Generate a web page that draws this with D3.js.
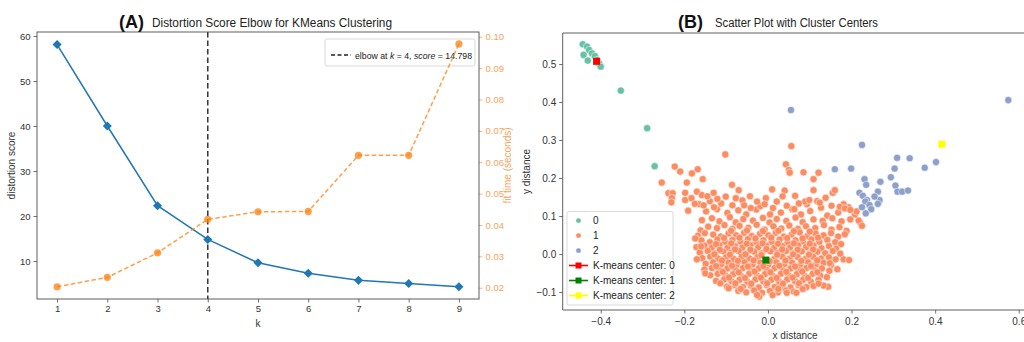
<!DOCTYPE html>
<html><head><meta charset="utf-8">
<script src="https://cdn.jsdelivr.net/npm/d3@7"></script>
<style>body{margin:0;background:#fff}svg{display:block}text{font-family:"Liberation Sans",Arial,sans-serif}</style>
</head><body><svg id="c" width="1024" height="342"></svg>
<script>
// ---------- Panel A data ----------
const kValues=[1,2,3,4,5,6,7,8,9];
const distortion=[58.1,40.0,22.3,14.798,9.6,7.3,5.7,5.0,4.3];
const fitTime=[0.0203,0.0233,0.0311,0.0418,0.0442,0.0443,0.0622,0.0622,0.0977];
const elbowK=4, elbowScore=14.798;
const leftTicks=[10,20,30,40,50,60];
const rightTicks=[0.02,0.03,0.04,0.05,0.06,0.07,0.08,0.09,0.10];
// ---------- Panel B data ----------
const xTicksB=[-0.4,-0.2,0.0,0.2,0.4,0.6];
const yTicksB=[-0.1,0.0,0.1,0.2,0.3,0.4,0.5];
const clusterLabels=["0","1","2"];
const clusterColors=["#66c2a5","#fc8d62","#8da0cb"];
const cluster0=[[-0.443,0.552],[-0.433,0.546],[-0.428,0.537],[-0.421,0.528],[-0.441,0.524],[-0.431,0.509],[-0.404,0.502],[-0.400,0.493],[-0.414,0.521],[-0.409,0.511],[-0.352,0.430],[-0.289,0.331],[-0.271,0.231]];
const cluster2=[[0.225,0.287],[0.160,0.223],[0.199,0.225],[0.231,0.197],[0.235,0.182],[0.269,0.190],[0.219,0.161],[0.227,0.153],[0.237,0.142],[0.233,0.138],[0.243,0.129],[0.247,0.118],[0.234,0.107],[0.225,0.123],[0.263,0.164],[0.267,0.142],[0.263,0.132],[0.294,0.202],[0.303,0.225],[0.309,0.253],[0.305,0.180],[0.310,0.164],[0.321,0.164],[0.335,0.167],[0.339,0.252],[0.375,0.227],[0.402,0.242],[0.255,0.151],[0.575,0.405],[0.055,0.379]];
const cluster1Outer=[[-0.102,0.262],[0.056,0.284],[-0.223,0.230],[-0.210,0.217],[-0.254,0.188],[-0.168,0.223],[-0.182,0.212],[-0.156,0.197],[-0.194,0.188],[-0.238,0.160],[-0.228,0.160],[-0.230,0.147],[-0.231,0.136],[-0.198,0.161],[-0.198,0.142],[-0.191,0.114],[-0.170,0.164],[-0.158,0.155],[-0.130,0.161],[-0.086,0.182],[-0.070,0.168],[-0.077,0.147],[-0.183,0.147],[-0.175,0.132],[0.010,0.170],[0.040,0.167],[0.043,0.236],[0.050,0.221],[0.052,0.214],[0.085,0.215],[0.121,0.214],[0.109,0.197],[0.109,0.168],[0.065,0.153],[0.155,0.161],[0.160,0.168],[0.124,0.135],[0.089,0.138],[0.099,0.142],[0.021,0.138],[0.172,0.124],[0.184,0.120],[0.197,0.116],[0.217,0.088],[0.225,0.074],[-0.145,0.152],[-0.121,0.145],[-0.101,0.151],[-0.061,0.141],[-0.043,0.152],[-0.026,0.138],[-0.005,0.147],[0.035,0.152],[0.074,0.133],[0.138,0.148],[-0.154,0.128],[-0.057,0.128],[-0.008,0.131],[0.045,0.127],[0.063,0.118],[-0.129,0.123],
[0.181,-0.014],[0.194,-0.016],[0.144,-0.086],[0.133,-0.083],[0.121,-0.078],[0.045,-0.102],[0.068,-0.102],[-0.026,-0.108],[-0.094,-0.090],[-0.114,-0.077],[-0.150,-0.051],[-0.170,-0.014],[-0.174,0.041],[-0.160,0.020],[0.173,0.001],[0.166,-0.040],[0.148,-0.024]];
const cluster1Core=[[-0.148,0.112],[-0.122,0.118],[-0.097,0.108],[-0.071,0.115],[-0.052,0.104],[-0.028,0.117],[0.012,0.121],[0.031,0.109],[0.058,0.118],[0.079,0.104],[0.101,0.113],[0.127,0.122],[0.142,0.101],[0.168,0.109],[0.193,0.123],[0.208,0.104],[-0.165,0.131],[-0.139,0.139],[-0.085,0.128],[-0.112,0.133],[-0.018,0.126],[0.005,0.104],[0.093,0.131],[0.118,0.139],[0.152,0.127],[0.181,0.131],[0.212,0.112],[-0.041,0.121],
[-0.158,0.089],[-0.134,0.094],[-0.116,0.086],[-0.091,0.097],[-0.077,0.083],[-0.059,0.092],[-0.036,0.088],[-0.012,0.095],[0.004,0.083],[0.021,0.092],[0.044,0.087],[0.066,0.096],[0.083,0.084],[0.109,0.091],[0.131,0.087],[0.154,0.094],[0.176,0.086],[0.197,0.091],[0.221,0.082],
[-0.143,0.072],[-0.122,0.068],[-0.104,0.076],[-0.085,0.066],[-0.068,0.074],[-0.047,0.069],[-0.027,0.077],[-0.008,0.064],[0.013,0.073],[0.032,0.067],[0.051,0.075],[0.072,0.066],[0.091,0.073],[0.113,0.068],[0.134,0.076],[0.152,0.064],[0.171,0.071],[0.188,0.061],[-0.161,0.062],
[-0.168,0.048],[-0.151,0.055],[-0.131,0.051],[-0.113,0.046],[-0.094,0.054],[-0.076,0.049],[-0.057,0.056],[-0.039,0.047],[-0.019,0.053],[0.001,0.049],[0.019,0.056],[0.038,0.046],[0.057,0.052],[0.076,0.057],[0.094,0.047],[0.114,0.054],[0.133,0.049],[0.151,0.055],[0.168,0.046],[0.184,0.052],
[-0.159,0.036],[-0.139,0.031],[-0.121,0.038],[-0.103,0.032],[-0.085,0.037],[-0.066,0.033],[-0.048,0.039],[-0.029,0.031],[-0.011,0.036],[0.009,0.032],[0.028,0.038],[0.047,0.031],[0.066,0.036],[0.084,0.033],[0.104,0.038],[0.123,0.032],[0.142,0.037],[0.161,0.031],[0.175,0.026],
[-0.171,0.018],[-0.152,0.022],[-0.134,0.017],[-0.116,0.023],[-0.097,0.016],[-0.079,0.021],[-0.061,0.017],[-0.042,0.023],[-0.023,0.018],[-0.004,0.022],[0.015,0.016],[0.034,0.021],[0.053,0.017],[0.072,0.023],[0.091,0.018],[0.109,0.022],[0.128,0.015],[0.146,0.021],[0.163,0.014],
[-0.163,0.004],[-0.144,0.008],[-0.126,0.002],[-0.107,0.007],[-0.089,0.003],[-0.070,0.008],[-0.052,0.001],[-0.033,0.006],[-0.014,0.002],[0.006,0.007],[0.024,0.003],[0.043,0.008],[0.062,0.002],[0.081,0.007],[0.099,0.001],[0.118,0.006],[0.137,0.002],[0.155,0.008],
[-0.157,-0.011],[-0.138,-0.007],[-0.119,-0.012],[-0.100,-0.008],[-0.082,-0.013],[-0.063,-0.007],[-0.044,-0.012],[-0.025,-0.008],[0.015,-0.013],[0.034,-0.007],[0.052,-0.012],[0.071,-0.008],[0.090,-0.013],[0.108,-0.007],[0.127,-0.012],[0.146,-0.009],[0.162,-0.014],
[-0.149,-0.026],[-0.131,-0.022],[-0.112,-0.027],[-0.094,-0.023],[-0.075,-0.028],[-0.056,-0.022],[-0.037,-0.027],[-0.018,-0.023],[0.001,-0.028],[0.020,-0.022],[0.039,-0.027],[0.058,-0.023],[0.077,-0.028],[0.096,-0.022],[0.115,-0.027],[0.133,-0.023],[0.151,-0.029],
[-0.152,-0.041],[-0.134,-0.037],[-0.116,-0.043],[-0.097,-0.038],[-0.078,-0.042],[-0.060,-0.037],[-0.041,-0.043],[-0.022,-0.038],[-0.003,-0.042],[0.016,-0.037],[0.035,-0.043],[0.054,-0.038],[0.073,-0.042],[0.092,-0.037],[0.111,-0.043],[0.129,-0.038],[0.147,-0.044],
[-0.138,-0.056],[-0.120,-0.052],[-0.101,-0.057],[-0.083,-0.053],[-0.064,-0.058],[-0.045,-0.052],[-0.026,-0.057],[-0.007,-0.053],[0.012,-0.058],[0.031,-0.052],[0.050,-0.057],[0.069,-0.053],[0.088,-0.058],[0.107,-0.052],[0.125,-0.057],[0.141,-0.061],
[-0.124,-0.071],[-0.105,-0.067],[-0.087,-0.072],[-0.068,-0.068],[-0.049,-0.073],[-0.030,-0.067],[-0.011,-0.072],[0.008,-0.068],[0.027,-0.073],[0.046,-0.067],[0.065,-0.072],[0.084,-0.068],[0.103,-0.073],[0.121,-0.068],
[-0.098,-0.086],[-0.079,-0.082],[-0.060,-0.087],[-0.041,-0.083],[-0.022,-0.088],[-0.003,-0.082],[0.016,-0.087],[0.035,-0.083],[0.054,-0.088],[0.073,-0.082],[0.092,-0.087],[0.109,-0.084],
[-0.071,-0.097],[-0.052,-0.101],[-0.033,-0.096],[-0.014,-0.102],[0.005,-0.097],[0.024,-0.101],[0.043,-0.096],[0.062,-0.099],[-0.021,-0.112],[0.011,-0.108],
[-0.088,0.061],[-0.050,0.062],[-0.012,0.060],[0.025,0.061],[0.062,0.060],[0.100,0.059],[-0.105,0.042],[-0.068,0.043],[-0.030,0.041],[0.008,0.043],[0.046,0.042],[0.083,0.041],[0.120,0.043],[-0.124,0.026],[-0.088,0.028],[-0.051,0.027],[-0.013,0.028],[0.024,0.027],[0.062,0.028],[0.100,0.027],[-0.115,0.011],[-0.079,0.012],[-0.042,0.011],[-0.004,0.013],[0.034,0.012],[0.071,0.011],[0.108,0.012],[-0.128,-0.001],[-0.091,-0.002],[-0.054,-0.001],[-0.016,-0.003],[0.022,-0.002],[0.060,-0.001],[0.098,-0.002],[-0.110,-0.017],[-0.072,-0.018],[-0.034,-0.017],[0.004,-0.019],[0.042,-0.017],[0.080,-0.018],[0.118,-0.017],[-0.124,-0.032],[-0.086,-0.031],[-0.048,-0.033],[-0.011,-0.032],[0.027,-0.031],[0.065,-0.033],[0.103,-0.032],[-0.108,-0.047],[-0.070,-0.048],[-0.032,-0.046],[0.006,-0.048],[0.044,-0.047],[0.082,-0.046],[0.118,-0.048],[-0.093,-0.062],[-0.055,-0.063],[-0.017,-0.062],[0.021,-0.063],[0.059,-0.062],[0.096,-0.063],[-0.078,-0.077],[-0.040,-0.078],[-0.002,-0.077],[0.036,-0.078],[0.074,-0.077],[-0.065,-0.092],[0.025,-0.092],[0.083,-0.092]];
const centerLabels=["K-means center: 0","K-means center: 1","K-means center: 2"];
const centerColors=["#ff0000","#008000","#ffff00"];
const centers=[[-0.410,0.507],[-0.005,-0.016],[0.416,0.289]];

const svg=d3.select('#c');
const spine="#4d4d4d";
function styleAxis(g,color,tcolor,fs){
  g.select('.domain').remove();
  g.selectAll('.tick line').attr('stroke',color).attr('stroke-width',0.8);
  g.selectAll('.tick text').attr('fill',tcolor).style('font-size',fs+'px').style('font-family','"Liberation Sans",Arial,sans-serif');
}

// ================= Panel A =================
const A={l:37,r:479,t:32,b:299};
const xA=d3.scaleLinear().domain([0.6,9.4]).range([A.l,A.r]);
const yA=d3.scaleLinear().domain([1.556,60.89]).range([A.b,A.t]);
const yA2=d3.scaleLinear().domain([0.0164,0.1015]).range([A.b,A.t]);
const gA=svg.append('g');
gA.append('g').attr('transform',`translate(0,${A.b})`)
  .call(d3.axisBottom(xA).tickValues(kValues).tickSize(3.5).tickPadding(3).tickFormat(d3.format('d')))
  .call(g=>styleAxis(g,spine,'#333',9.5));
gA.append('g').attr('transform',`translate(${A.l},0)`)
  .call(d3.axisLeft(yA).tickValues(leftTicks).tickSize(3.5).tickPadding(3).tickFormat(d3.format('d')))
  .call(g=>styleAxis(g,spine,'#333',9.5));
gA.append('g').attr('transform',`translate(${A.r},0)`)
  .call(d3.axisRight(yA2).tickValues(rightTicks).tickSize(3.5).tickPadding(3).tickFormat(d3.format('.2f')))
  .call(g=>styleAxis(g,'#f7a35c','#f7a35c',9.5));
gA.append('line').attr('x1',xA(elbowK)).attr('x2',xA(elbowK)).attr('y1',A.t).attr('y2',A.b)
  .attr('stroke','#333').attr('stroke-width',1.5).attr('stroke-dasharray','5.5,3');
// blue line
gA.append('path').datum(kValues.map((k,i)=>[k,distortion[i]]))
  .attr('d',d3.line().x(d=>xA(d[0])).y(d=>yA(d[1]))).attr('fill','none').attr('stroke','#1f77b4').attr('stroke-width',1.5);
gA.selectAll('.dia').data(kValues.map((k,i)=>[k,distortion[i]])).join('path')
  .attr('transform',d=>`translate(${xA(d[0])},${yA(d[1])}) rotate(45)`)
  .attr('d','M-3.2,-3.2H3.2V3.2H-3.2Z').attr('fill','#1f77b4');
// legend A
const lgA=gA.append('g');
lgA.append('rect').attr('x',325).attr('y',39).attr('width',150).attr('height',27).attr('rx',2)
  .attr('fill','#fff').attr('fill-opacity',0.85).attr('stroke','#d0d0d0').attr('stroke-width',0.8);
lgA.append('line').attr('x1',331).attr('x2',351).attr('y1',55).attr('y2',55).attr('stroke','#222').attr('stroke-width',1.5).attr('stroke-dasharray','4,2.5');
const lt=lgA.append('text').attr('x',355).attr('y',58.5).style('font-size','9.5px').attr('fill','#222');
lt.append('tspan').text('elbow at ');
lt.append('tspan').attr('font-style','italic').text('k');
lt.append('tspan').text(' = '+elbowK+', ');
lt.append('tspan').attr('font-style','italic').text('score');
lt.append('tspan').text(' = '+elbowScore);
lt.attr('textLength',117).attr('lengthAdjust','spacingAndGlyphs');
// orange line (on top)
gA.append('path').datum(kValues.map((k,i)=>[k,fitTime[i]]))
  .attr('d',d3.line().x(d=>xA(d[0])).y(d=>yA2(d[1]))).attr('fill','none').attr('stroke','#ff7f0e')
  .attr('stroke-opacity',0.75).attr('stroke-width',1.5).attr('stroke-dasharray','4.5,2.5');
gA.selectAll('.oc').data(kValues.map((k,i)=>[k,fitTime[i]])).join('circle')
  .attr('cx',d=>xA(d[0])).attr('cy',d=>yA2(d[1])).attr('r',3.6).attr('fill','#ff7f0e').attr('fill-opacity',0.75);
gA.append('rect').attr('x',A.l).attr('y',A.t).attr('width',A.r-A.l).attr('height',A.b-A.t).attr('fill','none').attr('stroke',spine).attr('stroke-width',0.9);
// labels A
gA.append('text').attr('transform',`translate(15,${(A.t+A.b)/2}) rotate(-90)`).attr('text-anchor','middle').style('font-size','10px').attr('fill','#333').text('distortion score');
gA.append('text').attr('transform',`translate(511,${(A.t+A.b)/2}) rotate(-90)`).attr('text-anchor','middle').style('font-size','10px').attr('fill','#f7a35c').text('fit time (seconds)');
gA.append('text').attr('x',xA(5)).attr('y',327).attr('text-anchor','middle').style('font-size','10px').attr('fill','#333').text('k');
gA.append('text').attr('x',119).attr('y',28).style('font-size','18px').style('font-weight','bold').attr('fill','#111').text('(A)');
gA.append('text').attr('x',152).attr('y',27).style('font-size','12.5px').attr('fill','#222')
  .attr('textLength',240).attr('lengthAdjust','spacingAndGlyphs').text('Distortion Score Elbow for KMeans Clustering');

// ================= Panel B =================
const B={l:562.7,r:1032,t:33,b:310};
const xB=d3.scaleLinear().domain([-0.491,0.6317]).range([B.l,B.r]);
const yB=d3.scaleLinear().domain([-0.1474,0.5816]).range([B.b,B.t]);
const gB=svg.append('g');
gB.append('defs').append('clipPath').attr('id','clipB').append('rect').attr('x',B.l).attr('y',B.t).attr('width',B.r-B.l).attr('height',B.b-B.t);
gB.append('g').attr('transform',`translate(0,${B.b})`)
  .call(d3.axisBottom(xB).tickValues(xTicksB).tickSize(3.5).tickPadding(4).tickFormat(d3.format('.1f')))
  .call(g=>styleAxis(g,spine,'#333',10));
gB.append('g').attr('transform',`translate(${B.l},0)`)
  .call(d3.axisLeft(yB).tickValues(yTicksB).tickSize(3.5).tickPadding(3).tickFormat(d3.format('.1f')))
  .call(g=>styleAxis(g,spine,'#333',10));
const pts=gB.append('g').attr('clip-path','url(#clipB)');
const allPts=[].concat(
  cluster1Core.map(p=>[p[0],p[1],1]),
  cluster1Outer.map(p=>[p[0],p[1],1]),
  cluster0.map(p=>[p[0],p[1],0]),
  cluster2.map(p=>[p[0],p[1],2]));
pts.selectAll('circle').data(allPts).join('circle')
  .attr('cx',d=>xB(d[0])).attr('cy',d=>yB(d[1])).attr('r',3.6)
  .attr('fill',d=>clusterColors[d[2]]).attr('stroke','#fff').attr('stroke-width',0.5);
pts.selectAll('.ctr').data(centers).join('rect').attr('class','ctr')
  .attr('x',d=>xB(d[0])-3.5).attr('y',d=>yB(d[1])-3.5).attr('width',7).attr('height',7)
  .attr('fill',(d,i)=>centerColors[i]);
gB.append('path').attr('d',`M${B.l},${B.t}H1024M${B.l},${B.t}V${B.b}H1024`).attr('fill','none').attr('stroke',spine).attr('stroke-width',0.9);
// legend B
const lgB=gB.append('g');
lgB.append('rect').attr('x',567).attr('y',211.5).attr('width',106).attr('height',93.5).attr('rx',2)
  .attr('fill','#fff').attr('fill-opacity',0.85).attr('stroke','#d0d0d0').attr('stroke-width',0.8);
clusterLabels.forEach((lab,i)=>{
  const y=220.5+i*15;
  lgB.append('circle').attr('cx',578.5).attr('cy',y).attr('r',2.6).attr('fill',clusterColors[i]).attr('stroke','#fff').attr('stroke-width',0.4);
  lgB.append('text').attr('x',593).attr('y',y+3.6).style('font-size',"10px").attr('fill','#222').text(lab);
});
centerLabels.forEach((lab,i)=>{
  const y=265.5+i*15;
  lgB.append('line').attr('x1',569).attr('x2',588).attr('y1',y).attr('y2',y).attr('stroke',centerColors[i]).attr('stroke-width',1.6);
  lgB.append('rect').attr('x',575.5).attr('y',y-3).attr('width',6).attr('height',6).attr('fill',centerColors[i]);
  lgB.append('text').attr('x',593).attr('y',y+3.6).style('font-size',"10px").attr('fill','#222').text(lab);
});
gB.append('text').attr('transform',`translate(530,${(B.t+B.b)/2}) rotate(-90)`).attr('text-anchor','middle').style('font-size','10px').attr('fill','#333').text('y distance');
gB.append('text').attr('x',xB(0.065)).attr('y',339).attr('text-anchor','middle').style('font-size','10px').attr('fill','#333').text('x distance');
gB.append('text').attr('x',678).attr('y',28).style('font-size','18px').style('font-weight','bold').attr('fill','#111').text('(B)');
gB.append('text').attr('x',715).attr('y',27).style('font-size','12.5px').attr('fill','#222')
  .attr('textLength',163).attr('lengthAdjust','spacingAndGlyphs').text('Scatter Plot with Cluster Centers');
</script></body></html>
